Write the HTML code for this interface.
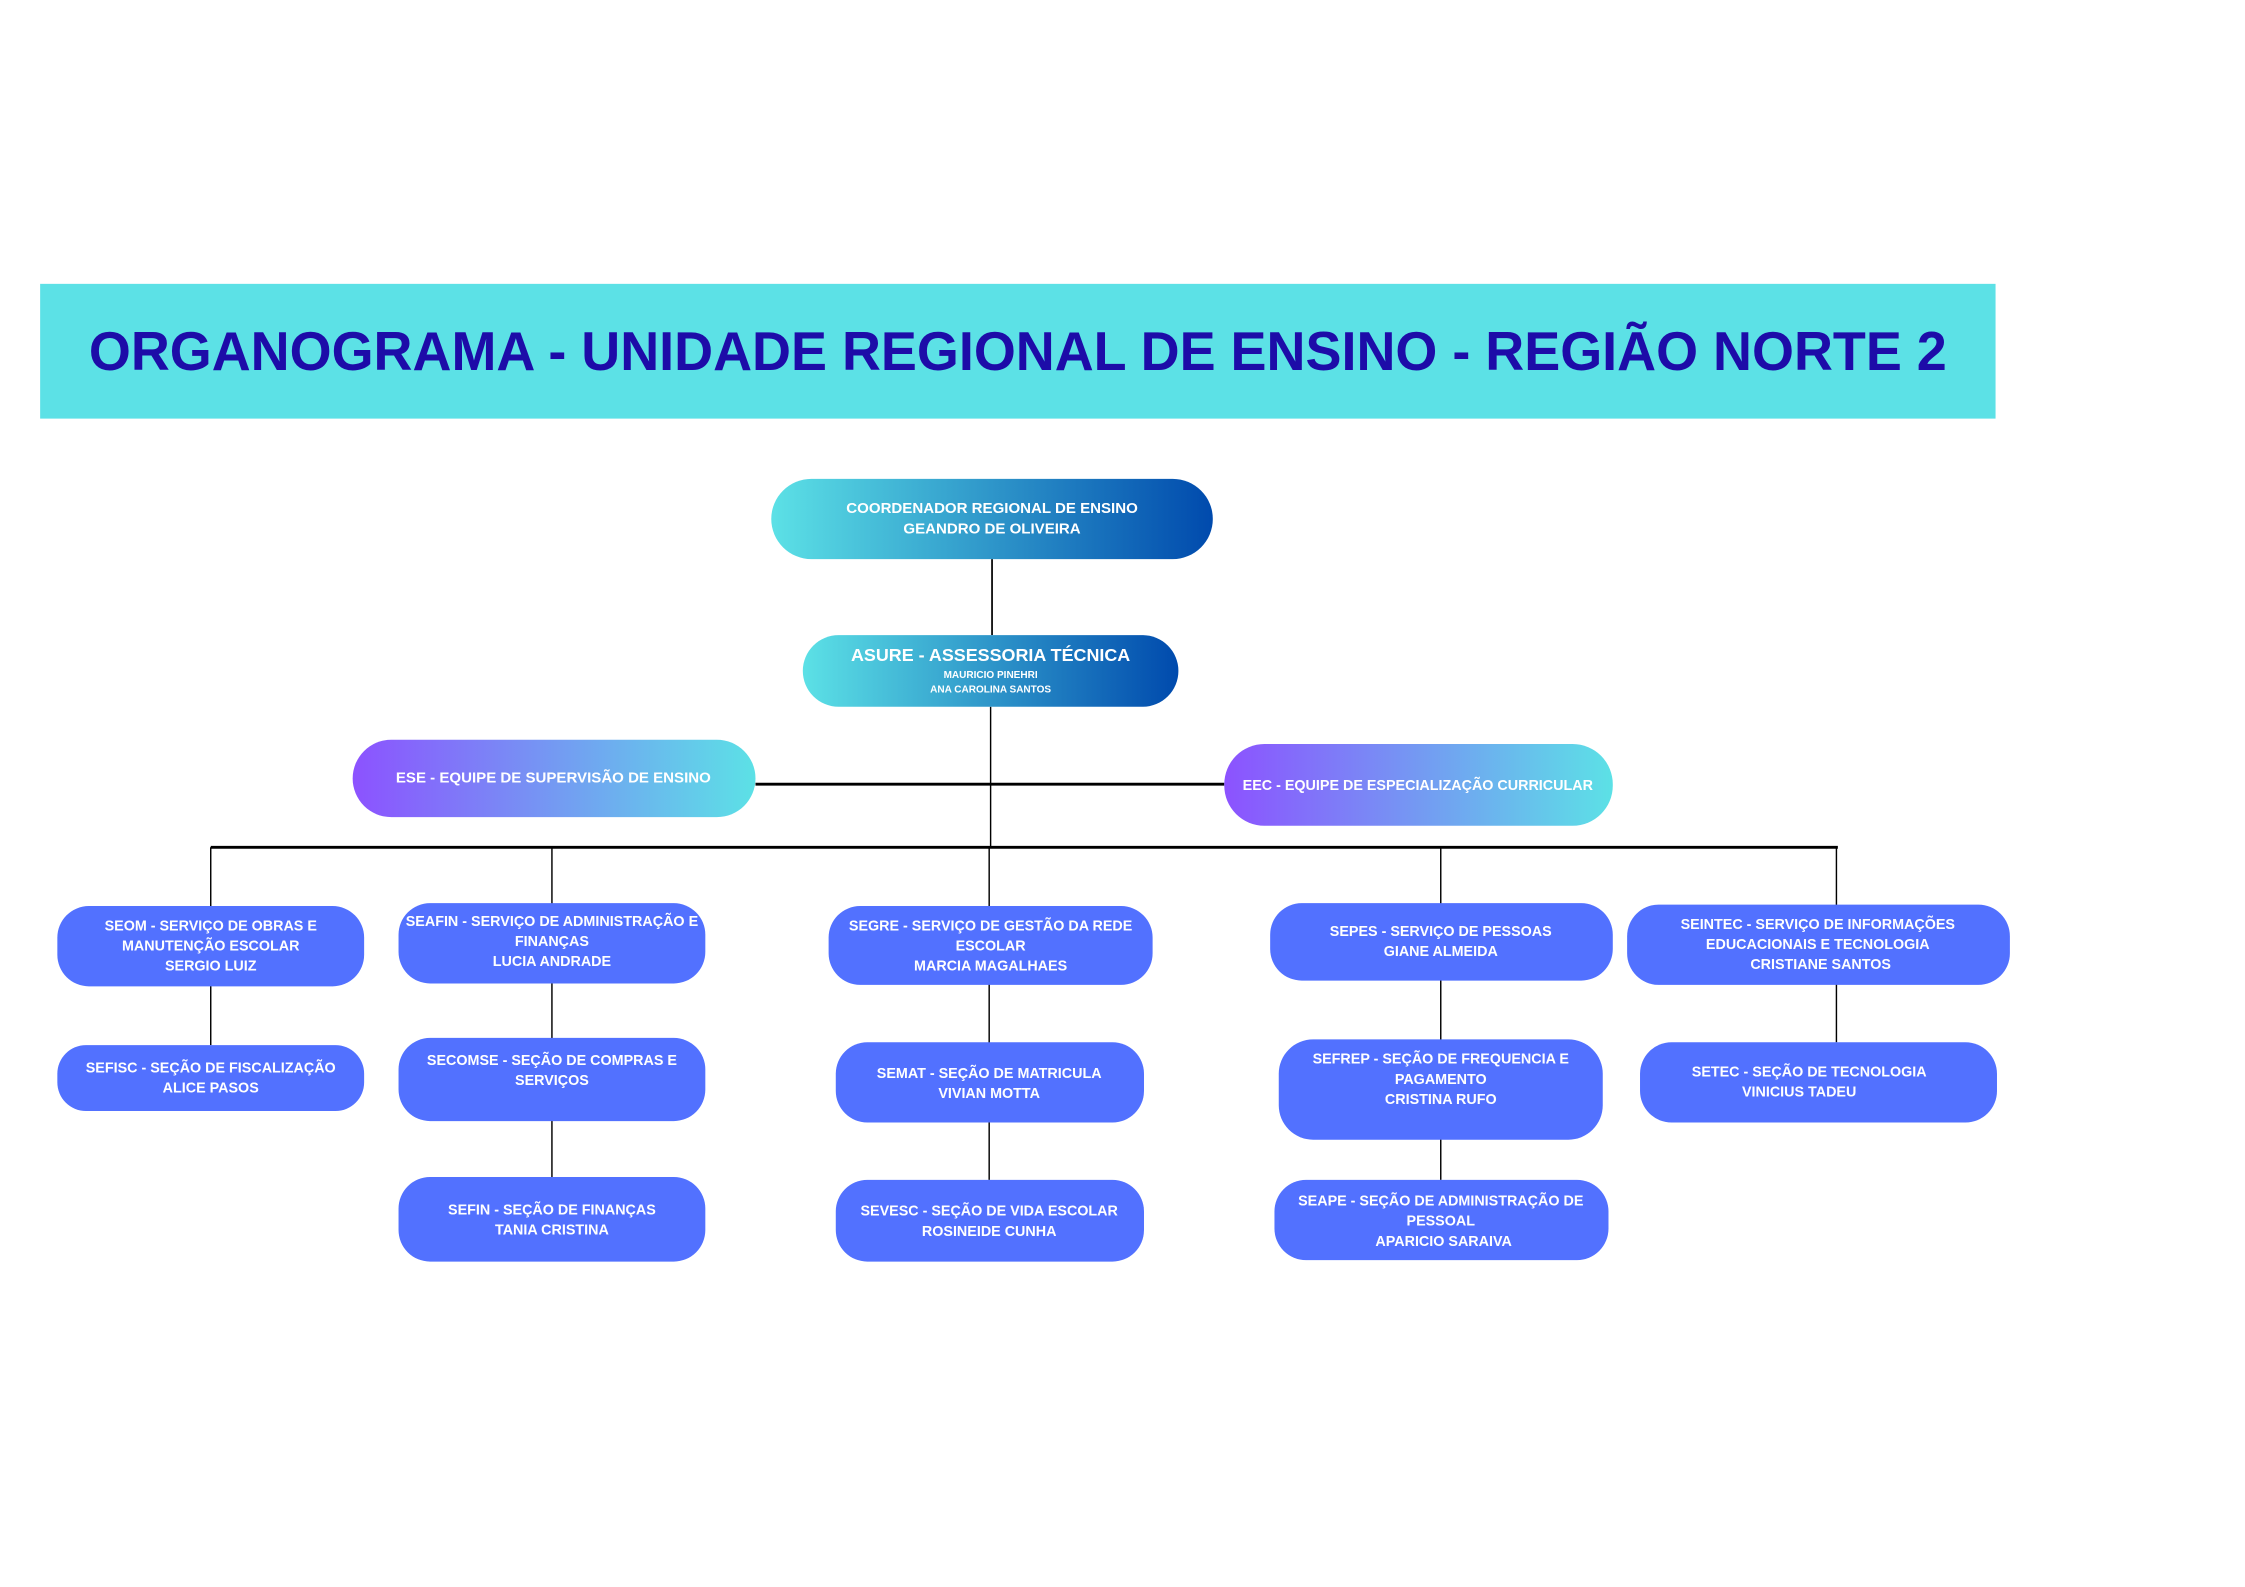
<!DOCTYPE html>
<html><head><meta charset="utf-8"><style>
html,body{margin:0;padding:0;background:#fff;}
svg{display:block;}
text{font-family:"Liberation Sans",sans-serif;font-weight:bold;fill:#fff;text-anchor:middle;}
</style></head><body>
<svg width="2245" height="1587" viewBox="0 0 1566 1107" preserveAspectRatio="none" xmlns="http://www.w3.org/2000/svg">
<defs>
<linearGradient id="g1" x1="0" x2="1" y1="0" y2="0"><stop offset="0" stop-color="#5ce1e6"/><stop offset="1" stop-color="#004aad"/></linearGradient>
<linearGradient id="g2" x1="0" x2="1" y1="0" y2="0"><stop offset="0" stop-color="#8c52ff"/><stop offset="1" stop-color="#5ce1e6"/></linearGradient>
</defs>
<rect x="28" y="198" width="1364" height="94" fill="#5ce1e6"/>
<text x="710" y="258" style="fill:#1d0ca8;font-size:38px" textLength="1296" lengthAdjust="spacingAndGlyphs">ORGANOGRAMA - UNIDADE REGIONAL DE ENSINO - REGIÃO NORTE 2</text>
<g stroke="#000" fill="none">
<line x1="692" y1="390" x2="692" y2="443" stroke-width="1.2"/>
<line x1="691" y1="493" x2="691" y2="591" stroke-width="1"/>
<line x1="527" y1="547" x2="854" y2="547" stroke-width="2"/>
<line x1="147" y1="591" x2="1282" y2="591" stroke-width="2"/>
<line x1="147" y1="591" x2="147" y2="729" stroke-width="1"/>
<line x1="385" y1="591" x2="385" y2="821" stroke-width="1"/>
<line x1="690" y1="591" x2="690" y2="823" stroke-width="1"/>
<line x1="1005" y1="591" x2="1005" y2="823" stroke-width="1"/>
<line x1="1281" y1="591" x2="1281" y2="727" stroke-width="1"/>
</g>
<rect x="538" y="334" width="308" height="56" rx="28" fill="url(#g1)"/>
<text x="692" y="358" style="font-size:10.5px">COORDENADOR REGIONAL DE ENSINO</text>
<text x="692" y="372" style="font-size:10.5px">GEANDRO DE OLIVEIRA</text>
<rect x="560" y="443" width="262" height="50" rx="25" fill="url(#g1)"/>
<text x="691" y="461" style="font-size:12.5px">ASURE - ASSESSORIA TÉCNICA</text>
<text x="691" y="473" style="font-size:7px">MAURICIO PINEHRI</text>
<text x="691" y="483" style="font-size:7px">ANA CAROLINA SANTOS</text>
<rect x="246" y="516" width="281" height="54" rx="27" fill="url(#g2)"/>
<text x="386" y="546" style="font-size:10.5px">ESE - EQUIPE DE SUPERVISÃO DE ENSINO</text>
<rect x="854" y="519" width="271" height="57" rx="28" fill="url(#g2)"/>
<text x="989" y="551" style="font-size:10px">EEC - EQUIPE DE ESPECIALIZAÇÃO CURRICULAR</text>
<g fill="#5271ff">
<rect x="40" y="632" width="214" height="56" rx="22"/>
<rect x="278" y="630" width="214" height="56" rx="22"/>
<rect x="578" y="632" width="226" height="55" rx="22"/>
<rect x="886" y="630" width="239" height="54" rx="22"/>
<rect x="1135" y="631" width="267" height="56" rx="22"/>
<rect x="40" y="729" width="214" height="46" rx="20"/>
<rect x="278" y="724" width="214" height="58" rx="22"/>
<rect x="583" y="727" width="215" height="56" rx="22"/>
<rect x="892" y="725" width="226" height="70" rx="24"/>
<rect x="1144" y="727" width="249" height="56" rx="22"/>
<rect x="278" y="821" width="214" height="59" rx="22"/>
<rect x="583" y="823" width="215" height="57" rx="22"/>
<rect x="889" y="823" width="233" height="56" rx="22"/>
</g>
<g style="font-size:10px">
<text x="147" y="649">SEOM - SERVIÇO DE OBRAS E</text><text x="147" y="663">MANUTENÇÃO ESCOLAR</text><text x="147" y="677">SERGIO LUIZ</text>
<text x="385" y="646" textLength="204" lengthAdjust="spacingAndGlyphs">SEAFIN - SERVIÇO DE ADMINISTRAÇÃO E</text><text x="385" y="660">FINANÇAS</text><text x="385" y="674">LUCIA ANDRADE</text>
<text x="691" y="649">SEGRE - SERVIÇO DE GESTÃO DA REDE</text><text x="691" y="663">ESCOLAR</text><text x="691" y="677">MARCIA MAGALHAES</text>
<text x="1005" y="653">SEPES - SERVIÇO DE PESSOAS</text><text x="1005" y="667">GIANE ALMEIDA</text>
<text x="1268" y="648">SEINTEC - SERVIÇO DE INFORMAÇÕES</text><text x="1268" y="662">EDUCACIONAIS E TECNOLOGIA</text><text x="1270" y="676">CRISTIANE SANTOS</text>
<text x="147" y="748">SEFISC - SEÇÃO DE FISCALIZAÇÃO</text><text x="147" y="762">ALICE PASOS</text>
<text x="385" y="743">SECOMSE - SEÇÃO DE COMPRAS E</text><text x="385" y="757">SERVIÇOS</text>
<text x="690" y="752">SEMAT - SEÇÃO DE MATRICULA</text><text x="690" y="766">VIVIAN MOTTA</text>
<text x="1005" y="742">SEFREP - SEÇÃO DE FREQUENCIA E</text><text x="1005" y="756">PAGAMENTO</text><text x="1005" y="770">CRISTINA RUFO</text>
<text x="1262" y="751">SETEC - SEÇÃO DE TECNOLOGIA</text><text x="1255" y="765">VINICIUS TADEU</text>
<text x="385" y="847">SEFIN - SEÇÃO DE FINANÇAS</text><text x="385" y="861">TANIA CRISTINA</text>
<text x="690" y="848">SEVESC - SEÇÃO DE VIDA ESCOLAR</text><text x="690" y="862">ROSINEIDE CUNHA</text>
<text x="1005" y="841">SEAPE - SEÇÃO DE ADMINISTRAÇÃO DE</text><text x="1005" y="855">PESSOAL</text><text x="1007" y="869">APARICIO SARAIVA</text>
</g>
</svg>
</body></html>
